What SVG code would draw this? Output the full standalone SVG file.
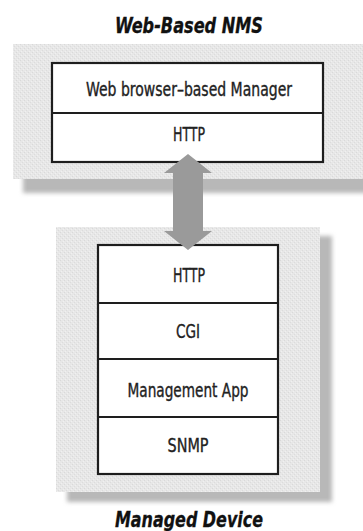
<svg xmlns="http://www.w3.org/2000/svg" width="363" height="531" viewBox="0 0 363 531">
  <defs>
    <filter id="blur" x="-10%" y="-10%" width="120%" height="120%">
      <feGaussianBlur stdDeviation="2"/>
    </filter>
    <pattern id="tex" width="4" height="4" patternUnits="userSpaceOnUse">
      <rect width="4" height="4" fill="#e7e7e7"/>
      <rect x="0" y="0" width="1" height="1" fill="#d9d9d9"/>
      <rect x="2" y="2" width="1" height="1" fill="#dcdcdc"/>
      <rect x="3" y="1" width="1" height="1" fill="#f0f0f0"/>
      <rect x="1" y="3" width="1" height="1" fill="#f0f0f0"/>
    </pattern>
    <style>
      .shadow { fill: #b8b8b8; filter: url(#blur); }
      .panel { fill: url(#tex); }
      .box { fill: #ffffff; stroke: #1e1e1e; stroke-width: 2.2; }
      .div { stroke: #1e1e1e; stroke-width: 2.2; }
      .lbl { font-family: "DejaVu Sans Condensed", "DejaVu Sans", sans-serif; font-stretch: condensed; font-size: 19px; fill: #222; stroke: #222; stroke-width: 0.35; text-anchor: middle; }
      .title { font-family: "DejaVu Sans Condensed", "DejaVu Sans", sans-serif; font-stretch: condensed; font-size: 21px; font-weight: bold; font-style: italic; fill: #111; stroke: #111; stroke-width: 0.3; text-anchor: middle; }
      .arrow { fill: #9a9a9a; }
    </style>
  </defs>
  <rect width="363" height="531" fill="#ffffff"/>

  <g id="web-nms">
    <rect class="shadow" x="23" y="56" width="350" height="137"/>
    <rect class="panel" x="13" y="44" width="355" height="135"/>
    <text class="title" x="189" y="33" textLength="148" lengthAdjust="spacingAndGlyphs">Web-Based NMS</text>
    <g id="web-stack">
      <rect class="box" x="52" y="63" width="271" height="99"/>
      <line class="div" x1="52" y1="113" x2="323" y2="113"/>
      <text class="lbl" x="189" y="96" textLength="206" lengthAdjust="spacingAndGlyphs">Web browser–based Manager</text>
      <text class="lbl" x="189" y="141" textLength="32" lengthAdjust="spacingAndGlyphs">HTTP</text>
    </g>
  </g>

  <g id="managed-device">
    <rect class="shadow" x="67" y="236" width="265" height="266"/>
    <rect class="panel" x="56" y="227" width="264" height="265"/>
    <text class="title" x="189" y="527" textLength="148" lengthAdjust="spacingAndGlyphs">Managed Device</text>
    <g id="device-stack">
      <rect class="box" x="98" y="245" width="180" height="229"/>
      <line class="div" x1="98" y1="303" x2="278" y2="303"/>
      <line class="div" x1="98" y1="359" x2="278" y2="359"/>
      <line class="div" x1="98" y1="417" x2="278" y2="417"/>
      <text class="lbl" x="189" y="282" textLength="32" lengthAdjust="spacingAndGlyphs">HTTP</text>
      <text class="lbl" x="188" y="338" textLength="24" lengthAdjust="spacingAndGlyphs">CGI</text>
      <text class="lbl" x="188" y="397" textLength="121" lengthAdjust="spacingAndGlyphs">Management App</text>
      <text class="lbl" x="188" y="452" textLength="41" lengthAdjust="spacingAndGlyphs">SNMP</text>
    </g>
  </g>

  <g id="connectors">
    <polygon class="arrow" points="188,154 212,173 203,173 203,231 212,231 188,250 164,231 173,231 173,173 164,173"/>
  </g>
</svg>
